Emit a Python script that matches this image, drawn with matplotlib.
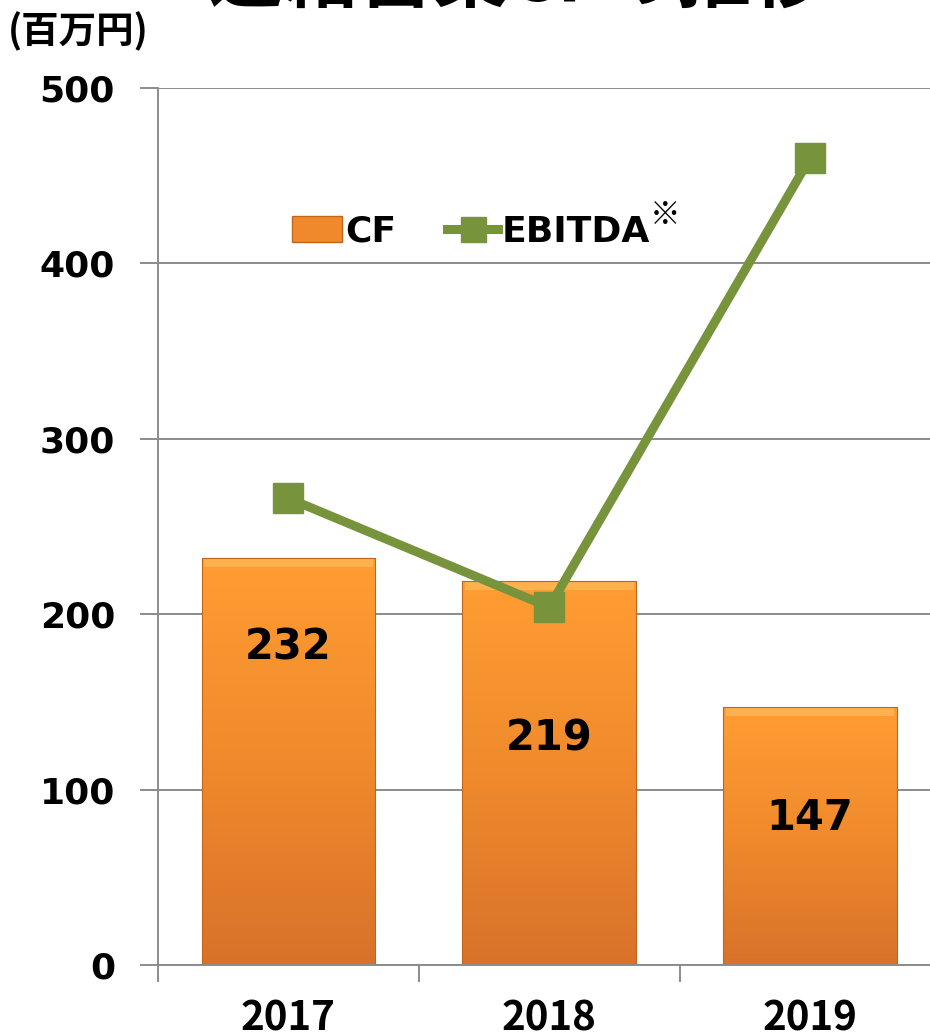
import numpy as np
import matplotlib.pyplot as plt
from matplotlib.colors import LinearSegmentedColormap
from matplotlib.patches import Patch
from matplotlib.lines import Line2D

years = ['2017', '2018', '2019']
cf = [232, 219, 147]
ebitda = [266, 204, 460]
yticks = [0, 100, 200, 300, 400, 500]

plt.rcParams['font.family'] = ['DejaVu Sans', 'Noto Sans CJK JP']

fig = plt.figure(figsize=(9.3, 10.32), dpi=100)
ax = fig.add_axes([0.170, 0.0649, 0.83, 0.850])

x = np.arange(len(years))
bars = ax.bar(x, cf, width=0.667, color='none', edgecolor='#c0661c', linewidth=0.8, zorder=2)

grad = LinearSegmentedColormap.from_list('org', ['#d8722a', '#f08a2c', '#ff9d33'])
for b in bars:
    x0, w, h = b.get_x(), b.get_width(), b.get_height()
    img = ax.imshow(np.linspace(0, 1, 200).reshape(-1, 1), cmap=grad, origin='lower',
                    extent=[x0, x0 + w, 0, h], aspect='auto', zorder=1.5)
    img.set_clip_path(b)
    # light bevel along the top
    ax.fill_between([x0 + 0.01, x0 + w - 0.01], h - 5, h - 0.5, color='#ffc060', alpha=0.6, zorder=1.6, lw=0)

ax.plot(x, ebitda, color='#77933c', lw=6.5, marker='s', markersize=22,
        markerfacecolor='#77933c', markeredgecolor='#77933c', zorder=3)

# value labels inside bars
label_frac = [0.78, 0.59, 0.57]
for xi, v, f in zip(x, cf, label_frac):
    ax.text(xi, v * f, str(v), ha='center', va='center', fontsize=30,
            fontweight='bold', color='black', zorder=4)

ax.set_xlim(-0.5, 2.46)
ax.set_ylim(0, 500)
ax.set_yticks(yticks)
ax.set_yticklabels([str(t) for t in yticks], fontsize=26, fontweight='bold')
ax.yaxis.grid(True, color='#8c8c8c', lw=1.4, zorder=0)
ax.set_axisbelow(True)

ax.set_xticks(x)
ax.set_xticklabels(years, fontsize=29, fontweight='bold', family='Noto Sans CJK JP')
ax.tick_params(axis='x', which='major', length=0, pad=24)
ax.set_xticks([-0.5, 0.5, 1.5], minor=True)
ax.tick_params(axis='x', which='minor', length=12, width=1.4, color='#8c8c8c', direction='out')
ax.tick_params(axis='y', length=13, width=1.4, color='#8c8c8c', pad=18)

for s in ['top', 'right']:
    ax.spines[s].set_visible(False)
ax.spines['left'].set_color('#8c8c8c')
ax.spines['left'].set_linewidth(1.4)
ax.spines['bottom'].set_color('#8c8c8c')
ax.spines['bottom'].set_linewidth(1.4)

handles = [Patch(facecolor='#f0892c', edgecolor='#c0661c'),
           Line2D([0], [0], color='#77933c', lw=6.5, marker='s', markersize=18)]
leg = ax.legend(handles, ['CF', 'EBITDA'], loc='center', bbox_to_anchor=(0.405, 0.836),
                ncol=2, frameon=False, handlelength=1.4, handletextpad=0.1,
                columnspacing=1.4, prop={'weight': 'bold', 'size': 26})
fig.text(0.699, 0.783, '※', fontsize=22, family='Noto Sans CJK JP', fontweight='bold')

fig.text(0.008, 0.970, '(百万円)', fontsize=27, fontweight='bold', family='Noto Sans CJK JP',
         ha='left', va='center')
fig.text(0.556, 0.999, '連結営業CFの推移', fontsize=54, fontweight='bold',
         family='Noto Sans CJK JP', ha='center', va='baseline')

fig.savefig('out.png', dpi=100)
